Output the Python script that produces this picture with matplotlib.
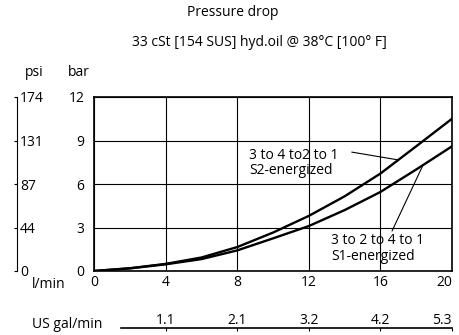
import matplotlib
matplotlib.use("Agg")
import matplotlib.pyplot as plt
import numpy as np

plt.rcParams['font.family'] = ['Open Sans', 'DejaVu Sans']

# flow in l/min and pressure drop in bar
flow_lpm = [0, 2, 4, 6, 8, 10, 12, 14, 16, 18, 20]
dp_s2 = [0, 0.19, 0.49, 0.93, 1.65, 2.65, 3.80, 5.15, 6.72, 8.60, 10.50]
dp_s1 = [0, 0.18, 0.46, 0.82, 1.42, 2.25, 3.10, 4.20, 5.45, 7.00, 8.60]

bar_ticks = [0, 3, 6, 9, 12]
psi_labels = ["0", "44", "87", "131", "174"]
lpm_ticks = [0, 4, 8, 12, 16, 20]
gal_ticks_lpm = [4, 8, 12, 16, 20]
gal_labels = ["1.1", "2.1", "3.2", "4.2", "5.3"]

label_s2 = "3 to 4 to2 to 1\nS2-energized"
label_s1 = "3 to 2 to 4 to 1\nS1-energized"

fs = 10

fig = plt.figure(figsize=(4.6, 3.35), dpi=100)
ax = fig.add_axes([94 / 460, 64 / 335, 358 / 460, 174 / 335])

ax.plot(flow_lpm, dp_s2, color="black", lw=1.7)
ax.plot(flow_lpm, dp_s1, color="black", lw=1.7)

ax.set_xlim(0, 20)
ax.set_ylim(0, 12)
ax.set_xticks(lpm_ticks)
ax.set_yticks(bar_ticks)
ax.tick_params(axis="both", length=0, labelsize=fs)
ax.tick_params(axis="y", pad=7)
ax.tick_params(axis="x", pad=3)
ax.get_xticklabels()[-1].set_horizontalalignment("right")
ax.grid(True, color="black", lw=0.8)
for s in ax.spines.values():
    s.set_linewidth(1.2)

# psi scale on the far left
sec_y = ax.secondary_yaxis(-0.215, functions=(lambda v: v, lambda v: v))
sec_y.set_alignment("right")
sec_y.set_yticks(bar_ticks, labels=psi_labels)
sec_y.tick_params(length=2, width=0.8, pad=2, labelsize=fs, direction="in")
sec_y.spines["right"].set_linewidth(0.8)

# US gal/min scale below
sec_x = ax.secondary_xaxis(-0.33, functions=(lambda v: v, lambda v: v))
sec_x.set_alignment("top")
sec_x.set_xticks(gal_ticks_lpm, labels=gal_labels)
sec_x.tick_params(length=2, width=0.8, pad=0.5, labelsize=fs, direction="in")
sec_x.get_xticklabels()[-1].set_horizontalalignment("right")
sec_x.spines["top"].set_linewidth(1.2)
sec_x.spines["top"].set_bounds(1.5, 20)

# curve labels with leader lines
ax.text(8.66, 7.45, label_s2, fontsize=fs, ha="left", va="center", linespacing=1.05)
ax.annotate("", xy=(17.0, np.interp(17.0, flow_lpm, dp_s2)), xytext=(14.4, 8.2),
            arrowprops=dict(arrowstyle="-", color="black", lw=0.8, shrinkA=0, shrinkB=0))
ax.text(13.24, 1.55, label_s1, fontsize=fs, ha="left", va="center", linespacing=1.05)
ax.annotate("", xy=(18.38, np.interp(18.38, flow_lpm, dp_s1)), xytext=(16.65, 2.76),
            arrowprops=dict(arrowstyle="-", color="black", lw=0.8, shrinkA=0, shrinkB=0))

fig.text(233 / 460, 1 - 13 / 335, "Pressure drop", ha="center", va="center", fontsize=fs)
fig.text(259 / 460, 1 - 43 / 335, "33 cSt [154 SUS] hyd.oil @ 38°C [100° F]",
         ha="center", va="center", fontsize=fs)
fig.text(34 / 460, 1 - 73 / 335, "psi", ha="center", va="center", fontsize=fs)
fig.text(79 / 460, 1 - 73 / 335, "bar", ha="center", va="center", fontsize=fs)
fig.text(49 / 460, 1 - 285 / 335, "l/min", ha="center", va="center", fontsize=fs)
fig.text(67 / 460, 1 - 325 / 335, "US gal/min", ha="center", va="center", fontsize=fs)

fig.savefig("out.png", dpi=100)
